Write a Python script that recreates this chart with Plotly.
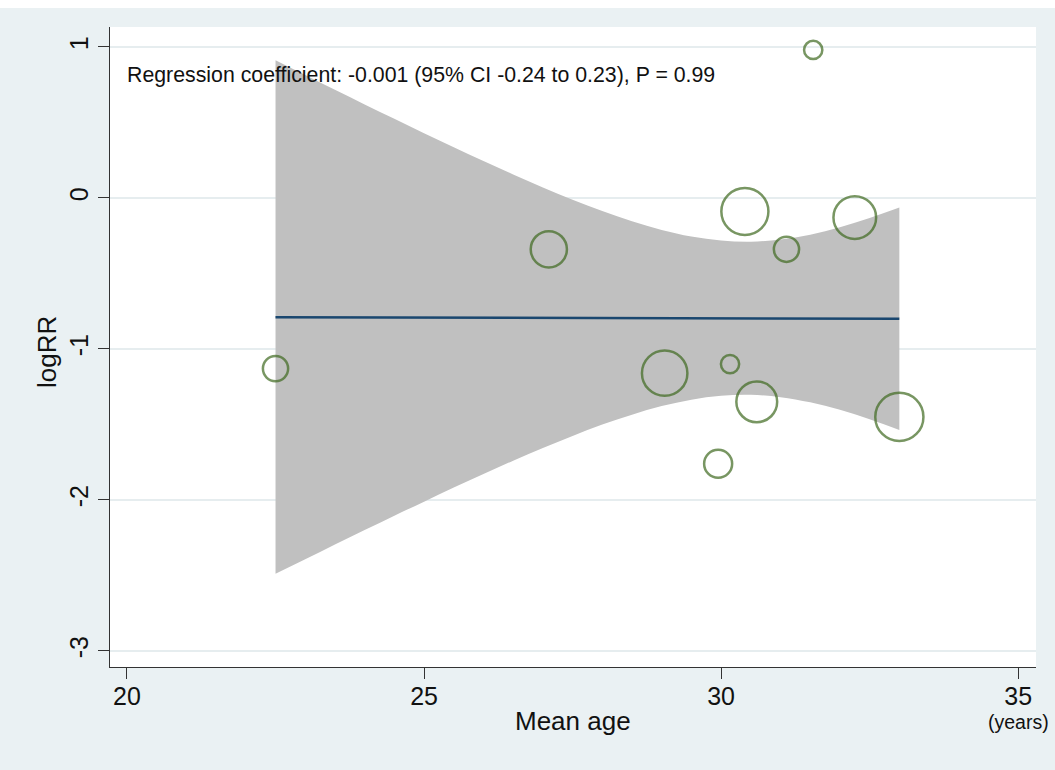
import plotly.graph_objects as go

# ---- data ----
study_age = [22.5, 27.1, 29.05, 29.95, 30.15, 30.4, 30.6, 31.1, 31.55, 32.25, 33.0]
study_logrr = [-1.13, -0.34, -1.16, -1.76, -1.10, -0.09, -1.35, -0.34, 0.98, -0.13, -1.45]
study_weight = [86, 177, 279, 106, 45, 299, 225, 86, 45, 246, 313]

fit_age = [22.5, 33.0]
fit_logrr = [-0.79, -0.80]

band_age = [22.5, 23.0, 23.5, 24.0, 24.5, 25.0, 25.5, 26.0, 26.5, 27.0, 27.5,
            28.0, 28.5, 29.0, 29.5, 30.0, 30.5, 31.0, 31.5, 32.0, 32.5, 33.0]
band_upper = [0.912, 0.814, 0.716, 0.619, 0.524, 0.429, 0.336, 0.244, 0.156, 0.070, -0.012,
              -0.087, -0.155, -0.212, -0.256, -0.282, -0.290, -0.275, -0.243, -0.194, -0.133, -0.064]
band_lower = [-2.488, -2.392, -2.294, -2.199, -2.104, -2.011, -1.918, -1.828, -1.740, -1.656, -1.576,
              -1.501, -1.435, -1.378, -1.336, -1.310, -1.304, -1.319, -1.353, -1.402, -1.465, -1.536]

x_ticks = [20, 25, 30, 35]
y_ticks = [-3, -2, -1, 0, 1]

annot_text = "Regression coefficient: -0.001 (95% CI -0.24 to 0.23), P = 0.99"
x_title = "Mean age"
y_title = "logRR"
x_unit = "(years)"

FONT = "Liberation Sans, Arial, sans-serif"
BG = "#EAF1F3"
TXT = "#111111"

fig = go.Figure()

# confidence band (lower boundary, then upper filled to it)
fig.add_trace(go.Scatter(
    x=band_age, y=band_lower, mode="lines",
    line=dict(width=0, shape="spline", smoothing=1.0, color="rgba(0,0,0,0)"),
    hoverinfo="skip", showlegend=False,
))
fig.add_trace(go.Scatter(
    x=band_age, y=band_upper, mode="lines", fill="tonexty", fillcolor="#C0C0C0",
    line=dict(width=0, shape="spline", smoothing=1.0, color="rgba(0,0,0,0)"),
    hoverinfo="skip", showlegend=False,
))

# fitted line
fig.add_trace(go.Scatter(
    x=fit_age, y=fit_logrr, mode="lines",
    line=dict(color="#1A476F", width=2.5), showlegend=False,
))

# bubbles
fig.add_trace(go.Scatter(
    x=study_age, y=study_logrr, mode="markers",
    marker=dict(size=study_weight, sizemode="area", sizeref=0.27,
                color="rgba(0,0,0,0)",
                line=dict(color="#3F6A20", width=2.5)),
    showlegend=False,
))

fig.update_layout(
    width=1055, height=770, autosize=False,
    margin=dict(l=110, r=19, t=27, b=103),
    paper_bgcolor=BG, plot_bgcolor="white",
    font=dict(family=FONT, color=TXT),
    xaxis=dict(
        range=[19.714, 35.30], tickvals=x_ticks, ticktext=[str(v) for v in x_ticks],
        showline=True, linecolor="#333333", linewidth=1.3,
        ticks="outside", ticklen=11, tickcolor="#333333", tickwidth=1.3,
        showgrid=False, zeroline=False, ticklabelstandoff=-4,
        tickfont=dict(size=25, family=FONT, color=TXT),
    ),
    yaxis=dict(
        range=[-3.106, 1.132], tickvals=y_ticks, ticktext=[str(v) for v in y_ticks],
        showline=True, linecolor="#333333", linewidth=1.3,
        ticks="outside", ticklen=11, tickcolor="#333333", tickwidth=1.3,
        showgrid=True, gridcolor="#E6EDEF", gridwidth=1.5, zeroline=False,
        tickangle=-90,
        tickfont=dict(size=25, family=FONT, color=TXT),
    ),
    annotations=[
        dict(text=annot_text, x=19.97, y=0.815, xref="x", yref="y",
             xanchor="left", yanchor="middle", showarrow=False,
             font=dict(size=21.3, family=FONT, color=TXT)),
        dict(text=x_title, x=0.5, y=(667 - 721) / 640, xref="paper", yref="paper",
             xanchor="center", yanchor="middle", showarrow=False,
             font=dict(size=26, family=FONT, color=TXT)),
        dict(text=y_title, x=(47 - 110) / 926, y=(667 - 352) / 640, xref="paper", yref="paper",
             xanchor="center", yanchor="middle", showarrow=False, textangle=-90,
             font=dict(size=26, family=FONT, color=TXT)),
        dict(text=x_unit, x=35, y=(667 - 722) / 640, xref="x", yref="paper",
             xanchor="center", yanchor="middle", showarrow=False,
             font=dict(size=19.5, family=FONT, color=TXT)),
    ],
    shapes=[
        dict(type="rect", xref="paper", yref="paper", x0=-0.2, x1=1.1,
             y0=(667 - 8) / 640, y1=(667 + 5) / 640, fillcolor="white",
             line=dict(width=0), layer="below"),
    ],
)

fig.write_html("out.html")
